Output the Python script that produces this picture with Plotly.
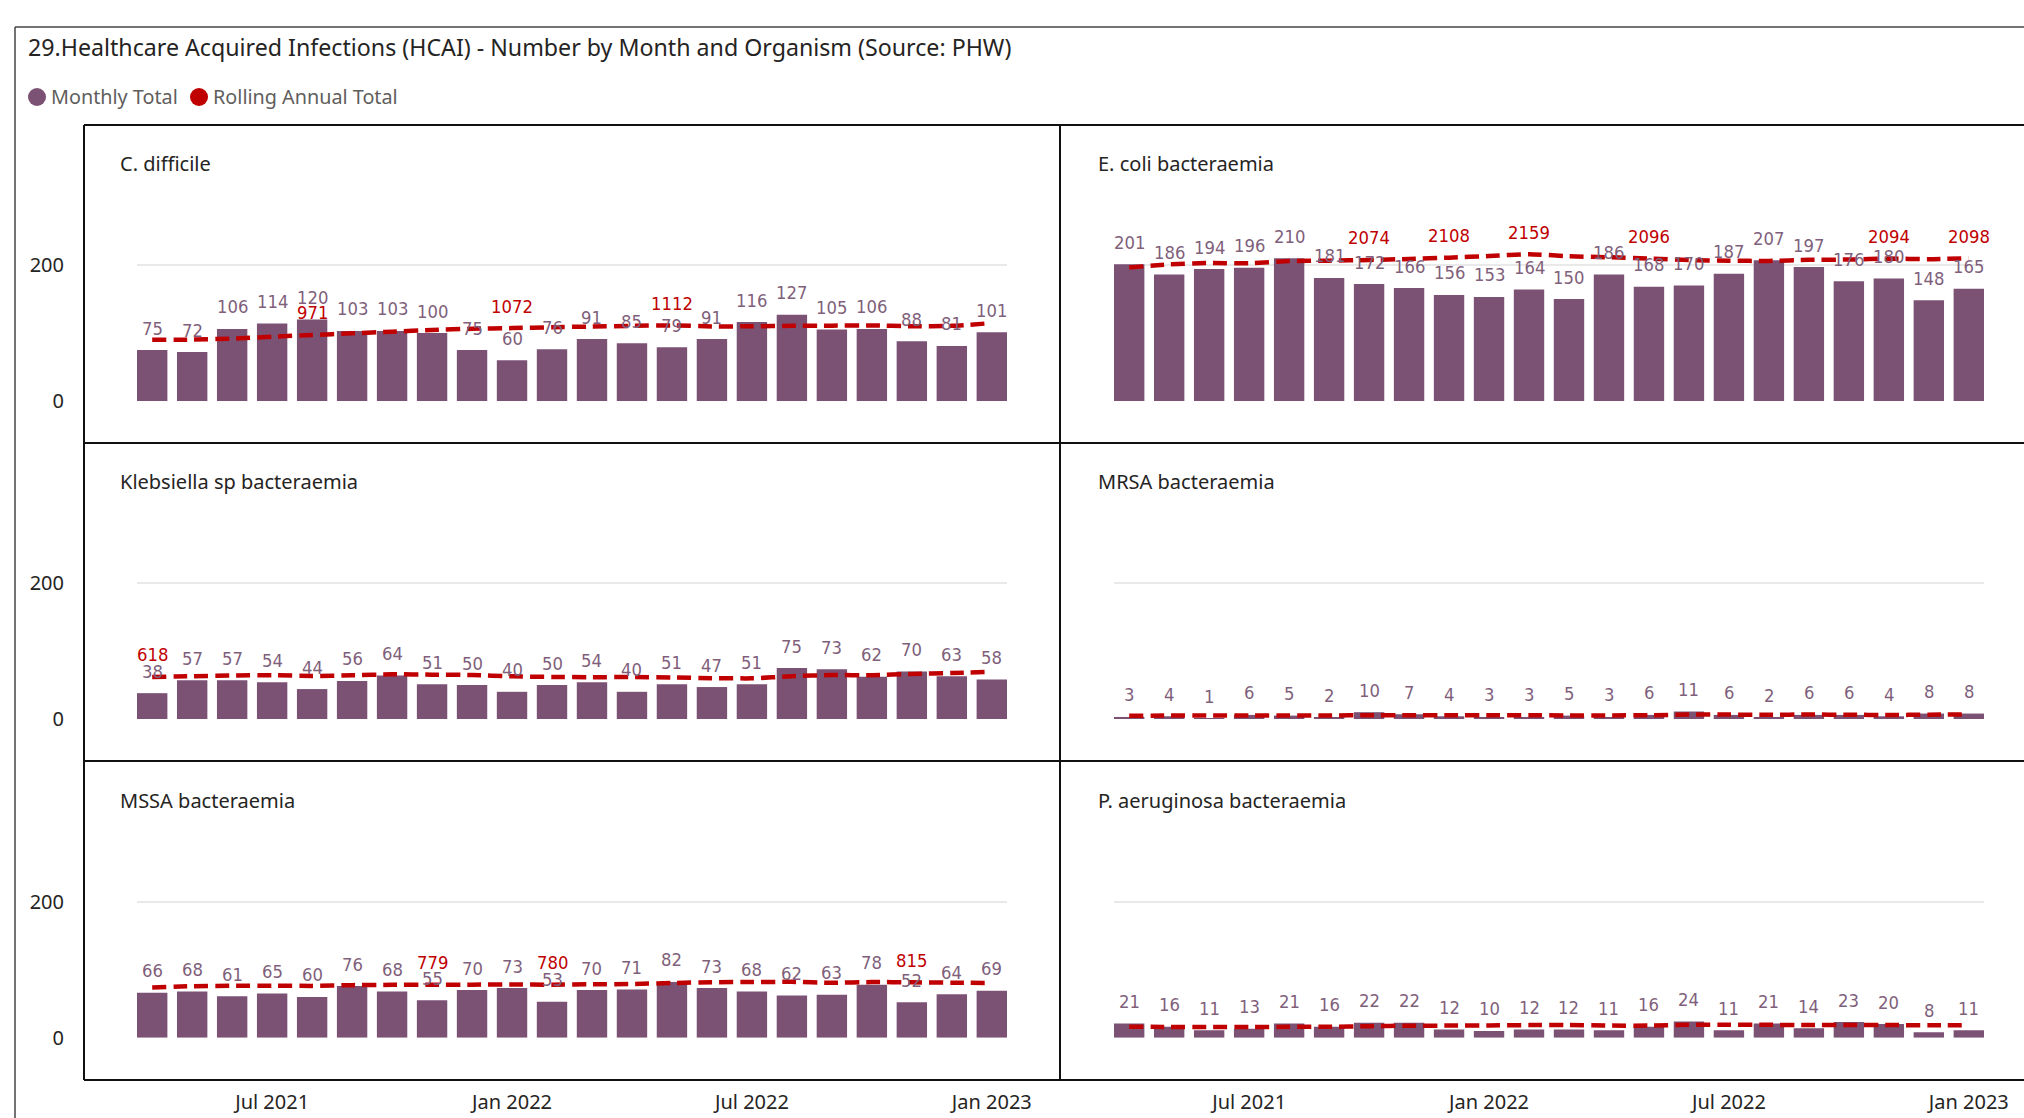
import plotly.graph_objects as go

W, H = 2024, 1118

months = ['Apr 2021', 'May 2021', 'Jun 2021', 'Jul 2021', 'Aug 2021', 'Sep 2021',
          'Oct 2021', 'Nov 2021', 'Dec 2021', 'Jan 2022', 'Feb 2022', 'Mar 2022',
          'Apr 2022', 'May 2022', 'Jun 2022', 'Jul 2022', 'Aug 2022', 'Sep 2022',
          'Oct 2022', 'Nov 2022', 'Dec 2022', 'Jan 2023']
tick_months = ['Jul 2021', 'Jan 2022', 'Jul 2022', 'Jan 2023']

organisms = ['C. difficile', 'E. coli bacteraemia', 'Klebsiella sp bacteraemia',
             'MRSA bacteraemia', 'MSSA bacteraemia', 'P. aeruginosa bacteraemia']

cdiff_monthly = [75, 72, 106, 114, 120, 103, 103, 100, 75, 60, 76, 91,
                 85, 79, 91, 116, 127, 105, 106, 88, 81, 101]
cdiff_rolling = [900, 903, 918, 945, 971, 995, 1020, 1045, 1062, 1072, 1085, 1095,
                 1105, 1112, 1097, 1099, 1106, 1108, 1111, 1099, 1105, 1146]
cdiff_labelled = ['Aug 2021', 'Jan 2022', 'May 2022']

ecoli_monthly = [201, 186, 194, 196, 210, 181, 172, 166, 156, 153, 164, 150,
                 186, 168, 170, 187, 207, 197, 176, 180, 148, 165]
ecoli_rolling = [1962, 2010, 2030, 2025, 2058, 2064, 2074, 2088, 2108, 2132, 2159, 2129,
                 2114, 2096, 2072, 2063, 2060, 2076, 2080, 2094, 2086, 2098]
ecoli_labelled = ['Oct 2021', 'Dec 2021', 'Feb 2022', 'May 2022', 'Nov 2022', 'Jan 2023']

kleb_monthly = [38, 57, 57, 54, 44, 56, 64, 51, 50, 40, 50, 54,
                40, 51, 47, 51, 75, 73, 62, 70, 63, 58]
kleb_rolling = [618, 630, 640, 645, 632, 642, 657, 652, 647, 628, 618, 615,
                617, 611, 601, 598, 629, 646, 644, 663, 676, 694]
kleb_labelled = ['Apr 2021']

mrsa_monthly = [3, 4, 1, 6, 5, 2, 10, 7, 4, 3, 3, 5,
                3, 6, 11, 6, 2, 6, 6, 4, 8, 8]
mrsa_rolling = [48, 50, 50, 52, 52, 52, 56, 56, 55, 54, 54, 53,
                53, 55, 65, 65, 62, 66, 62, 59, 63, 68]
mrsa_labelled = []

mssa_monthly = [66, 68, 61, 65, 60, 76, 68, 55, 70, 73, 53, 70,
                71, 82, 73, 68, 62, 63, 78, 52, 64, 69]
mssa_rolling = [740, 758, 764, 765, 762, 773, 777, 779, 780, 783, 780, 785,
                790, 804, 816, 819, 821, 808, 818, 815, 809, 805]
mssa_labelled = ['Nov 2021', 'Feb 2022', 'Nov 2022']

paer_monthly = [21, 16, 11, 13, 21, 16, 22, 22, 12, 10, 12, 12,
                11, 16, 24, 11, 21, 14, 23, 20, 8, 11]
paer_rolling = [162, 158, 157, 156, 160, 160, 170, 176, 178, 180, 185, 188,
                178, 178, 191, 189, 189, 187, 188, 186, 182, 183]
paer_labelled = []

monthly = [cdiff_monthly, ecoli_monthly, kleb_monthly, mrsa_monthly, mssa_monthly, paer_monthly]
rolling = [cdiff_rolling, ecoli_rolling, kleb_rolling, mrsa_rolling, mssa_rolling, paer_rolling]
labelled = [cdiff_labelled, ecoli_labelled, kleb_labelled, mrsa_labelled, mssa_labelled, paer_labelled]

BAR = '#7B5174'
RED = '#C00000'
LABEL_PURPLE = '#7F5F7B'
TEXT = '#252423'
GREY = '#605E5C'
FONT = 'Segoe UI, Noto Sans, sans-serif'
LABEL_FONT = 'DejaVu Sans Condensed, Liberation Sans Narrow, sans-serif'
LABEL_SIZE = 18.3


def px_x(p):
    return p / W


def px_y(p):
    return 1 - p / H


col_x = [(137, 1007), (1114, 1984)]
row_zero = [401, 719, 1037.7]
row_title_y = [163, 481.7, 800]
col_title_x = [118, 1096]
Y_TOP = 300
PX_PER_UNIT = 0.68

fig = go.Figure()
layout = dict()
annotations = []

for k in range(6):
    r, c = divmod(k, 2)
    n = k + 1
    n2 = k + 7
    xa = 'x' if n == 1 else f'x{n}'
    ya = 'y' if n == 1 else f'y{n}'
    ya2 = f'y{n2}'

    fig.add_trace(go.Bar(x=months, y=monthly[k], marker=dict(color=BAR, line=dict(width=0)),
                         xaxis=xa, yaxis=ya, showlegend=False, hoverinfo='x+y'))
    fig.add_trace(go.Scatter(x=months, y=rolling[k], mode='lines',
                             line=dict(color=RED, width=4.5, dash='14px,7px', shape='spline', smoothing=0.5),
                             xaxis=xa, yaxis=ya2, showlegend=False, hoverinfo='x+y'))

    x0, x1 = col_x[c]
    zero = row_zero[r]
    top = zero - Y_TOP * PX_PER_UNIT
    ydom = [px_y(zero), px_y(top)]

    layout[f'xaxis{n}'] = dict(
        domain=[px_x(x0), px_x(x1)], anchor=ya, automargin=False,
        type='category', range=[-0.38, len(months) - 1 + 0.38],
        showgrid=False, zeroline=False, showline=False, ticks='',
        tickmode='array', tickvals=tick_months, ticktext=tick_months,
        showticklabels=(r == 2), ticklabelstandoff=50,
        tickfont=dict(family=FONT, size=20, color=TEXT), fixedrange=True)
    layout[f'yaxis{n}'] = dict(
        domain=ydom, anchor=xa, range=[0, Y_TOP], automargin=False,
        tickmode='array', tickvals=[0, 200], ticktext=['0', '200'],
        showgrid=True, gridcolor='#E9E9E9', gridwidth=2, zeroline=False,
        showline=False, ticks='', showticklabels=(c == 0), ticklabelstandoff=72,
        tickfont=dict(family=FONT, size=20, color=TEXT), fixedrange=True)
    layout[f'yaxis{n2}'] = dict(
        domain=ydom, anchor=xa, overlaying=ya, range=[0, Y_TOP * 10], automargin=False,
        visible=False, showgrid=False, zeroline=False, fixedrange=True)

    # panel title
    annotations.append(dict(xref='paper', yref='paper', x=px_x(col_title_x[c]), y=px_y(row_title_y[r]),
                            xanchor='left', yanchor='middle', text=organisms[k], showarrow=False,
                            font=dict(family=FONT, size=20, color=TEXT)))
    # bar labels
    for m, v in zip(months, monthly[k]):
        annotations.append(dict(xref=xa, yref=ya, x=m, y=v, text=str(v), showarrow=False,
                                yanchor='middle', yshift=22,
                                font=dict(family=LABEL_FONT, size=LABEL_SIZE, color=LABEL_PURPLE)))
    # rolling labels
    for m, v in zip(months, rolling[k]):
        if m in labelled[k]:
            annotations.append(dict(xref=xa, yref=ya2, x=m, y=v, text=str(v), showarrow=False,
                                    yanchor='middle', yshift=22,
                                    font=dict(family=LABEL_FONT, size=LABEL_SIZE, color=RED)))

# chart title and legend
annotations.append(dict(xref='paper', yref='paper', x=px_x(26), y=px_y(47), xanchor='left', yanchor='middle',
                        text='29.Healthcare Acquired Infections (HCAI) - Number by Month and Organism (Source: PHW)',
                        showarrow=False, font=dict(family=FONT, size=23.2, color=TEXT)))
annotations.append(dict(xref='paper', yref='paper', x=px_x(49), y=px_y(97), xanchor='left', yanchor='middle',
                        text='Monthly Total', showarrow=False, font=dict(family=FONT, size=19.8, color=GREY)))
annotations.append(dict(xref='paper', yref='paper', x=px_x(211), y=px_y(97), xanchor='left', yanchor='middle',
                        text='Rolling Annual Total', showarrow=False, font=dict(family=FONT, size=19.8, color=GREY)))

shapes = []


def hline(y, xa, xb, color='#111111', width=2):
    shapes.append(dict(type='line', xref='paper', yref='paper', x0=px_x(xa), x1=px_x(xb),
                       y0=px_y(y), y1=px_y(y), line=dict(color=color, width=width)))


def vline(x, ya_, yb, color='#111111', width=2):
    shapes.append(dict(type='line', xref='paper', yref='paper', x0=px_x(x), x1=px_x(x),
                       y0=px_y(ya_), y1=px_y(yb), line=dict(color=color, width=width)))


# outer visual border
hline(27, 15, W, color='#444444', width=1.5)
vline(15, 27, H, color='#444444', width=1.5)
# small multiples grid
for yy in [125, 443, 761, 1080]:
    hline(yy, 84, W)
for xx in [84, 1060]:
    vline(xx, 125, 1080)

# legend dots
for cx, col in [(37, BAR), (199, RED)]:
    shapes.append(dict(type='circle', xref='paper', yref='paper',
                       x0=px_x(cx - 9), x1=px_x(cx + 9), y0=px_y(97 + 9), y1=px_y(97 - 9),
                       fillcolor=col, line=dict(width=0)))

fig.update_layout(
    width=W, height=H, margin=dict(l=0, r=0, t=0, b=0, autoexpand=False),
    paper_bgcolor='white', plot_bgcolor='white',
    bargap=0.24, showlegend=False,
    annotations=annotations, shapes=shapes,
    **layout)

fig.write_html('out.html', config={'displayModeBar': False},
               post_script="document.body.style.margin='0';document.body.style.overflow='hidden';")
